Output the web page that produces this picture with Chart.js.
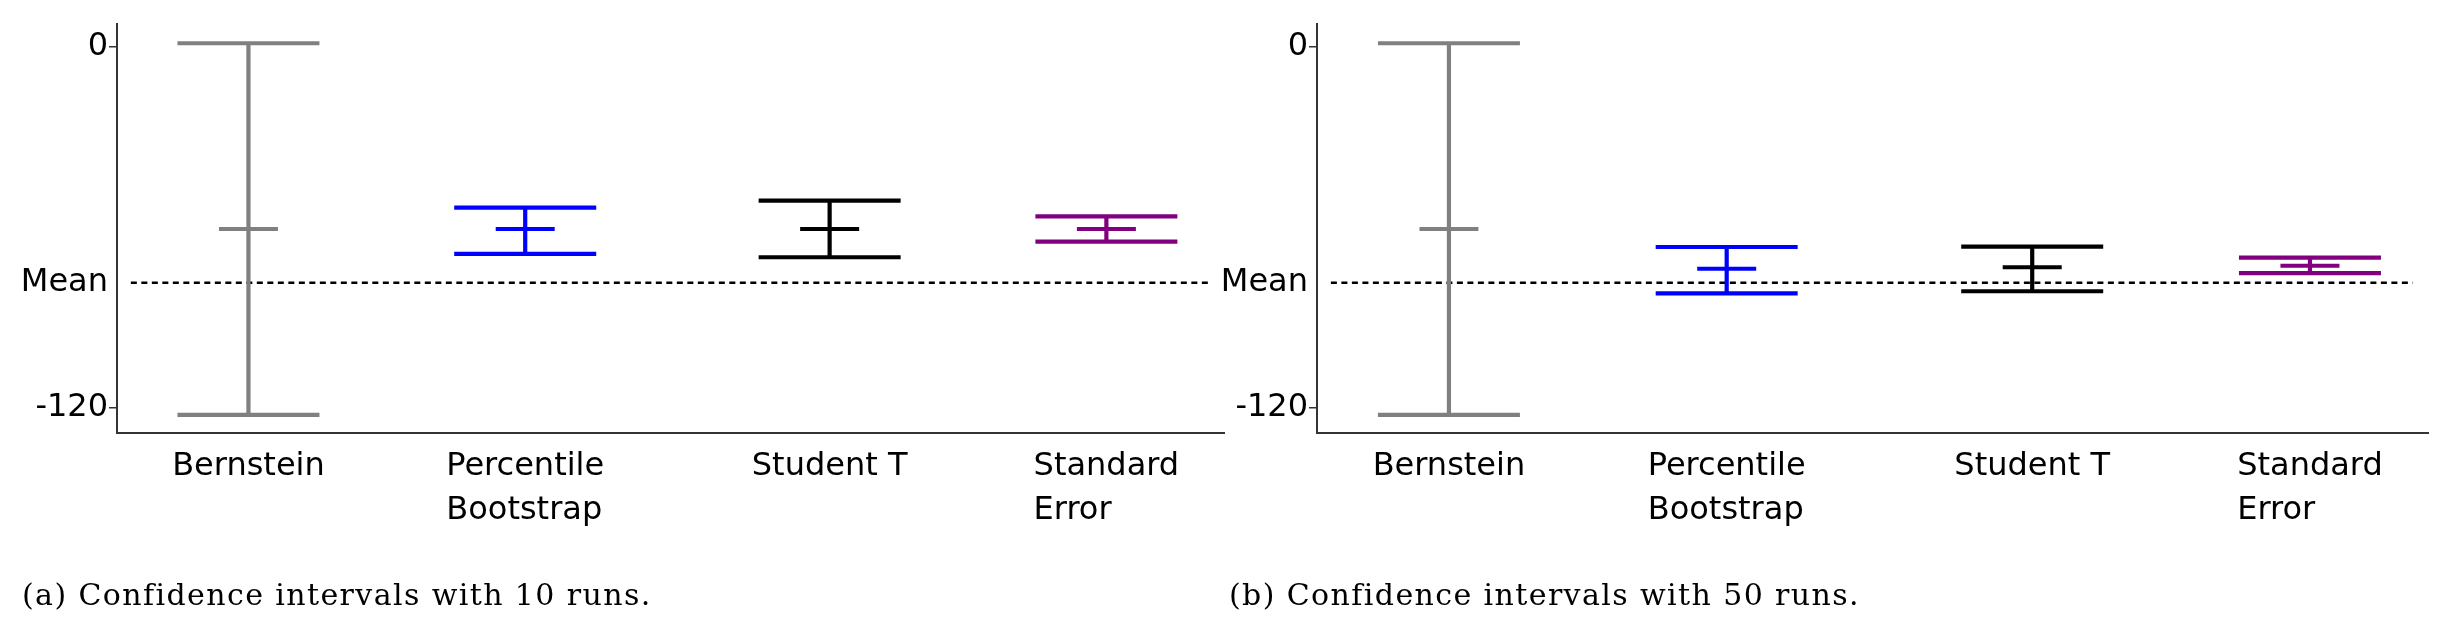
<!DOCTYPE html>
<html>
<head>
<meta charset="utf-8">
<script src="https://cdn.jsdelivr.net/npm/chart.js@4.4.1/dist/chart.umd.min.js"></script>
<style>
  html, body { margin: 0; padding: 0; background: #fff; }
  body { width: 2452px; height: 636px; position: relative; overflow: hidden; }
  canvas { position: absolute; top: 0; }
  #panelA { left: 0; }
  #panelB { left: 1200px; }
  .caption {
    position: absolute; top: 580px;
    font-family: "DejaVu Serif", serif; font-size: 30px; line-height: 30px;
    letter-spacing: 1.4px; color: #000; white-space: nowrap;
  }
</style>
</head>
<body>
<canvas id="panelA" width="1228" height="636"></canvas>
<canvas id="panelB" width="1232" height="636"></canvas>
<div class="caption" style="left:22px">(a) Confidence intervals with 10 runs.</div>
<div class="caption" style="left:1229px">(b) Confidence intervals with 50 runs.</div>
<script>
// methods (x categories) and where they sit on the x axis
const methods = [['Bernstein'], ['Percentile', 'Bootstrap'], ['Student T'], ['Standard', 'Error']];
const positions = [0, 1, 2.1, 3.1];
const colors = ['#808080', '#0000ff', '#000000', '#800080'];

// confidence intervals with 10 runs
const low10 = [-122.5, -69.0, -70.1, -64.9];
const high10 = [1.0, -53.6, -51.3, -56.5];
const mid10 = [-60.7, -60.7, -60.7, -60.7];

// confidence intervals with 50 runs
const low50 = [-122.5, -82.1, -81.4, -75.4];
const high50 = [1.0, -66.7, -66.6, -70.2];
const mid50 = [-60.7, -73.9, -73.4, -72.9];

// true mean and y tick labels
const meanValue = -78.6;
const meanLineFrom = -0.425;
const meanLineTo = 3.47;
const yTickValues = [-120, meanValue, 0];
const yTickLabels = ['-120', 'Mean', '0'];

// draw the category labels, lines left aligned, block centred on the bar
const xLabelPlugin = {
    id: 'xLabels',
    afterDraw(chart) {
        const { ctx, chartArea } = chart;
        const x = chart.scales.x;
        ctx.save();
        ctx.font = '32px "DejaVu Sans"';
        ctx.fillStyle = '#000';
        ctx.textAlign = 'left';
        ctx.textBaseline = 'alphabetic';
        methods.forEach((lines, i) => {
            const w = Math.max(...lines.map(l => ctx.measureText(l).width));
            const left = x.getPixelForValue(positions[i]) - w / 2;
            lines.forEach((line, j) => {
                ctx.fillText(line, left, chartArea.bottom + 42 + j * 44);
            });
        });
        ctx.restore();
    }
};

function buildPanel(canvasId, low, high, mid, rightPad) {
    const datasets = [];

    // whisker + caps for each method
    methods.forEach((m, i) => {
        datasets.push({
            data: [{ x: positions[i], y: low[i] }, { x: positions[i], y: high[i] }],
            showLine: true,
            borderColor: colors[i],
            borderWidth: 4.2,
            pointStyle: 'line',
            pointRadius: 71,
            pointBorderWidth: 4.2,
            pointBorderColor: colors[i]
        });
    });

    // centre tick
    datasets.push({
        data: positions.map((p, i) => ({ x: p, y: mid[i] })),
        showLine: false,
        pointStyle: 'line',
        pointRadius: 29.5,
        pointBorderWidth: 4,
        pointBorderColor: colors
    });

    // dotted mean line (last dataset -> drawn underneath)
    datasets.push({
        data: [{ x: meanLineFrom, y: meanValue }, { x: meanLineTo, y: meanValue }],
        showLine: true,
        borderColor: '#000',
        borderWidth: 2.5,
        borderDash: [6, 4.5],
        pointRadius: 0
    });

    return new Chart(document.getElementById(canvasId), {
        type: 'scatter',
        data: { datasets: datasets },
        options: {
            responsive: false,
            animation: false,
            devicePixelRatio: 1,
            events: [],
            layout: { autoPadding: false, padding: { top: 24, right: rightPad, bottom: 0, left: 0 } },
            plugins: {
                legend: { display: false },
                tooltip: { enabled: false }
            },
            scales: {
                x: {
                    type: 'linear',
                    min: -0.475,
                    max: 3.525,
                    ticks: { display: false },
                    grid: { display: false },
                    border: { color: '#333', width: 2 },
                    afterFit: s => { s.height = 203; }
                },
                y: {
                    min: -128.5,
                    max: 7.4,
                    afterBuildTicks: s => { s.ticks = yTickValues.map(v => ({ value: v })); },
                    ticks: {
                        callback: (v, i) => yTickLabels[i],
                        font: { family: 'DejaVu Sans', size: 32 },
                        color: '#000',
                        padding: 1
                    },
                    grid: {
                        drawOnChartArea: false,
                        tickLength: 8,
                        lineWidth: 1.5,
                        tickColor: c => (c.tick && c.tick.value === meanValue) ? 'rgba(0,0,0,0)' : '#333'
                    },
                    border: { color: '#333', width: 2 },
                    afterFit: s => { s.width = 117; }
                }
            }
        },
        plugins: [xLabelPlugin]
    });
}

buildPanel('panelA', low10, high10, mid10, 4);
buildPanel('panelB', low50, high50, mid50, 4);
</script>
</body>
</html>
